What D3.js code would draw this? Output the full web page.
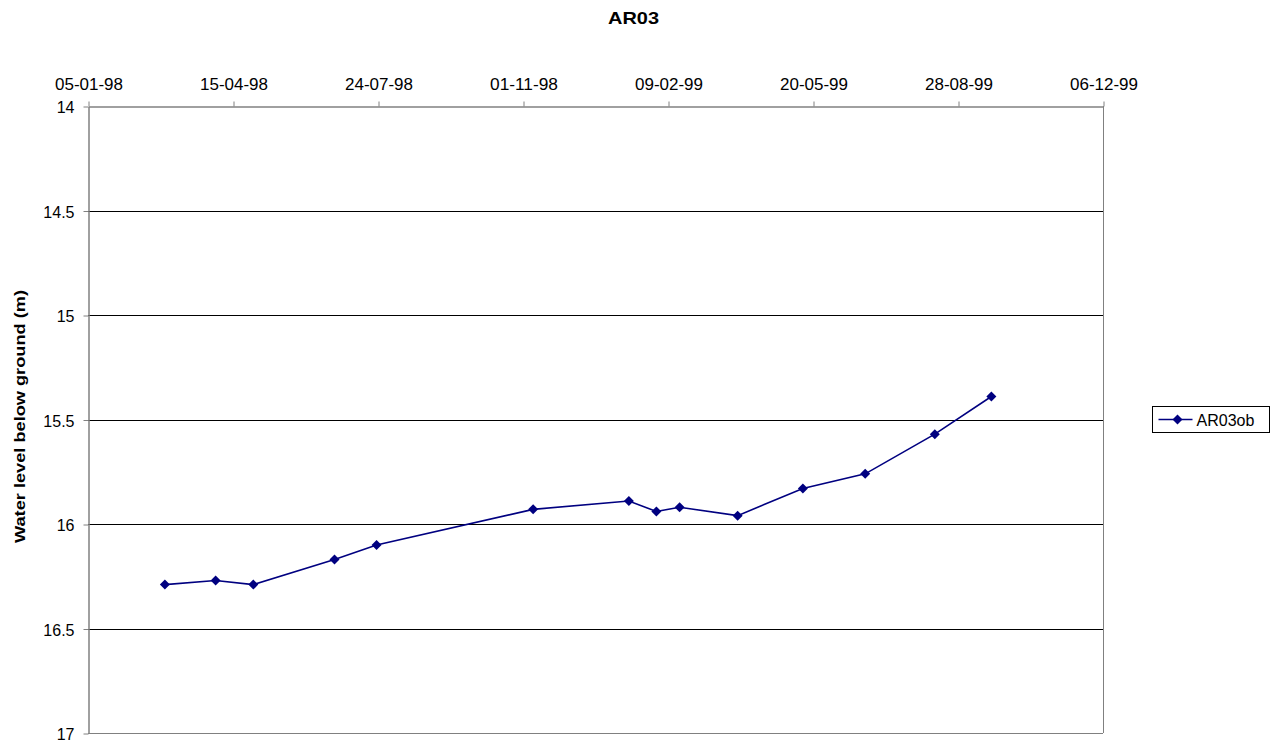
<!DOCTYPE html>
<html>
<head>
<meta charset="utf-8">
<script src="https://cdn.jsdelivr.net/npm/d3@7/dist/d3.min.js"></script>
<style>
  html, body { margin: 0; padding: 0; background: #fff; }
  svg { display: block; font-family: "Liberation Sans", Arial, sans-serif; }
</style>
</head>
<body>
<svg id="chart" width="1272" height="746"></svg>
<script>
// Observation dates (dd-mm-yy) and water level below ground (m) for well AR03
const dates = ["27-02-98", "03-04-98", "29-04-98", "24-06-98", "23-07-98", "08-11-98",
               "13-01-99", "01-02-99", "17-02-99", "29-03-99", "13-05-99", "25-06-99",
               "12-08-99", "20-09-99"];
const levels = [16.29, 16.27, 16.29, 16.17, 16.10, 15.93,
                15.89, 15.94, 15.92, 15.96, 15.83, 15.76,
                15.57, 15.39];
const xTicks = ["05-01-98", "15-04-98", "24-07-98", "01-11-98", "09-02-99",
                "20-05-99", "28-08-99", "06-12-99"];
const yTicks = [14, 14.5, 15, 15.5, 16, 16.5, 17];
const seriesName = "AR03ob";

const parse = d3.timeParse("%d-%m-%y");
const data = dates.map((d, i) => ({ date: parse(d), value: levels[i] }));
const tickDates = xTicks.map(parse);

const svg = d3.select("#chart");
const plot = { left: 88, right: 1103, top: 106, bottom: 733 };

const x = d3.scaleTime()
  .domain([tickDates[0], tickDates[tickDates.length - 1]])
  .range([plot.left, plot.right]);
const y = d3.scaleLinear()
  .domain([14, 17])
  .range([plot.top, plot.bottom]);

const navy = "#000080";
const axisGrey = "#808080";
const font = "'Liberation Sans', Arial, sans-serif";

// Horizontal gridlines
svg.append("g")
  .selectAll("line")
  .data(yTicks.filter(v => v > 14 && v < 17))
  .join("line")
  .attr("x1", plot.left).attr("x2", plot.right)
  .attr("y1", d => Math.round(y(d)) + 0.5).attr("y2", d => Math.round(y(d)) + 0.5)
  .attr("stroke", "#000").attr("stroke-width", 1);

// Plot frame (right and bottom edges)
svg.append("line")
  .attr("x1", plot.right + 0.5).attr("x2", plot.right + 0.5)
  .attr("y1", plot.top).attr("y2", plot.bottom)
  .attr("stroke", axisGrey);
svg.append("line")
  .attr("x1", plot.left).attr("x2", plot.right)
  .attr("y1", plot.bottom + 0.5).attr("y2", plot.bottom + 0.5)
  .attr("stroke", axisGrey);

// Top date axis
const xAxis = svg.append("g")
  .attr("transform", `translate(0.5,${plot.top + 0.5})`)
  .call(d3.axisTop(x).tickValues(tickDates).tickFormat(d3.timeFormat("%d-%m-%y"))
        .tickSize(5).tickSizeOuter(0));
xAxis.select(".domain").attr("stroke", axisGrey).attr("stroke-width", 1.5);
xAxis.selectAll(".tick line").attr("stroke", axisGrey);
xAxis.selectAll(".tick text")
  .attr("y", -17).attr("dy", 0)
  .attr("fill", "#000").style("font-size", "16px").style("font-family", font)
  .attr("textLength", 68).attr("lengthAdjust", "spacingAndGlyphs");

// Left level axis
const yAxis = svg.append("g")
  .attr("transform", `translate(${plot.left + 0.5},0.5)`)
  .call(d3.axisLeft(y).tickValues(yTicks).tickFormat(d3.format("")).tickSize(5).tickSizeOuter(0));
yAxis.select(".domain").attr("stroke", axisGrey).attr("stroke-width", 1.5);
yAxis.selectAll(".tick line").attr("stroke", axisGrey);
yAxis.selectAll(".tick text")
  .attr("x", -14).attr("dy", "0.4em")
  .attr("fill", "#000").style("font-size", "16px").style("font-family", font);

// Series line
svg.append("path")
  .datum(data)
  .attr("fill", "none")
  .attr("stroke", navy)
  .attr("stroke-width", 1.6)
  .attr("d", d3.line().x(d => x(d.date)).y(d => y(d.value)));

// Diamond markers
const diamond = "M0,-5L5,0L0,5L-5,0Z";
svg.append("g")
  .selectAll("path")
  .data(data)
  .join("path")
  .attr("d", diamond)
  .attr("transform", d => `translate(${x(d.date)},${y(d.value)})`)
  .attr("fill", navy);

// Title
svg.append("text")
  .attr("x", 633.5).attr("y", 24)
  .attr("text-anchor", "middle")
  .style("font-size", "17px").style("font-weight", "bold")
  .attr("textLength", 51).attr("lengthAdjust", "spacingAndGlyphs")
  .text("AR03");

// Y axis title
svg.append("text")
  .attr("transform", "translate(25,416.5) rotate(-90)")
  .attr("text-anchor", "middle")
  .style("font-size", "14px").style("font-weight", "bold")
  .attr("textLength", 253).attr("lengthAdjust", "spacingAndGlyphs")
  .text("Water level below ground (m)");

// Legend
const legend = svg.append("g").attr("transform", "translate(1152.5,406.5)");
legend.append("rect")
  .attr("width", 117).attr("height", 26)
  .attr("fill", "#fff").attr("stroke", "#000");
legend.append("line")
  .attr("x1", 6).attr("x2", 40).attr("y1", 13).attr("y2", 13)
  .attr("stroke", navy).attr("stroke-width", 1.6);
legend.append("path")
  .attr("d", diamond)
  .attr("transform", "translate(25,13)")
  .attr("fill", navy);
legend.append("text")
  .attr("x", 44).attr("y", 19)
  .style("font-size", "16px")
  .text(seriesName);
</script>
</body>
</html>
